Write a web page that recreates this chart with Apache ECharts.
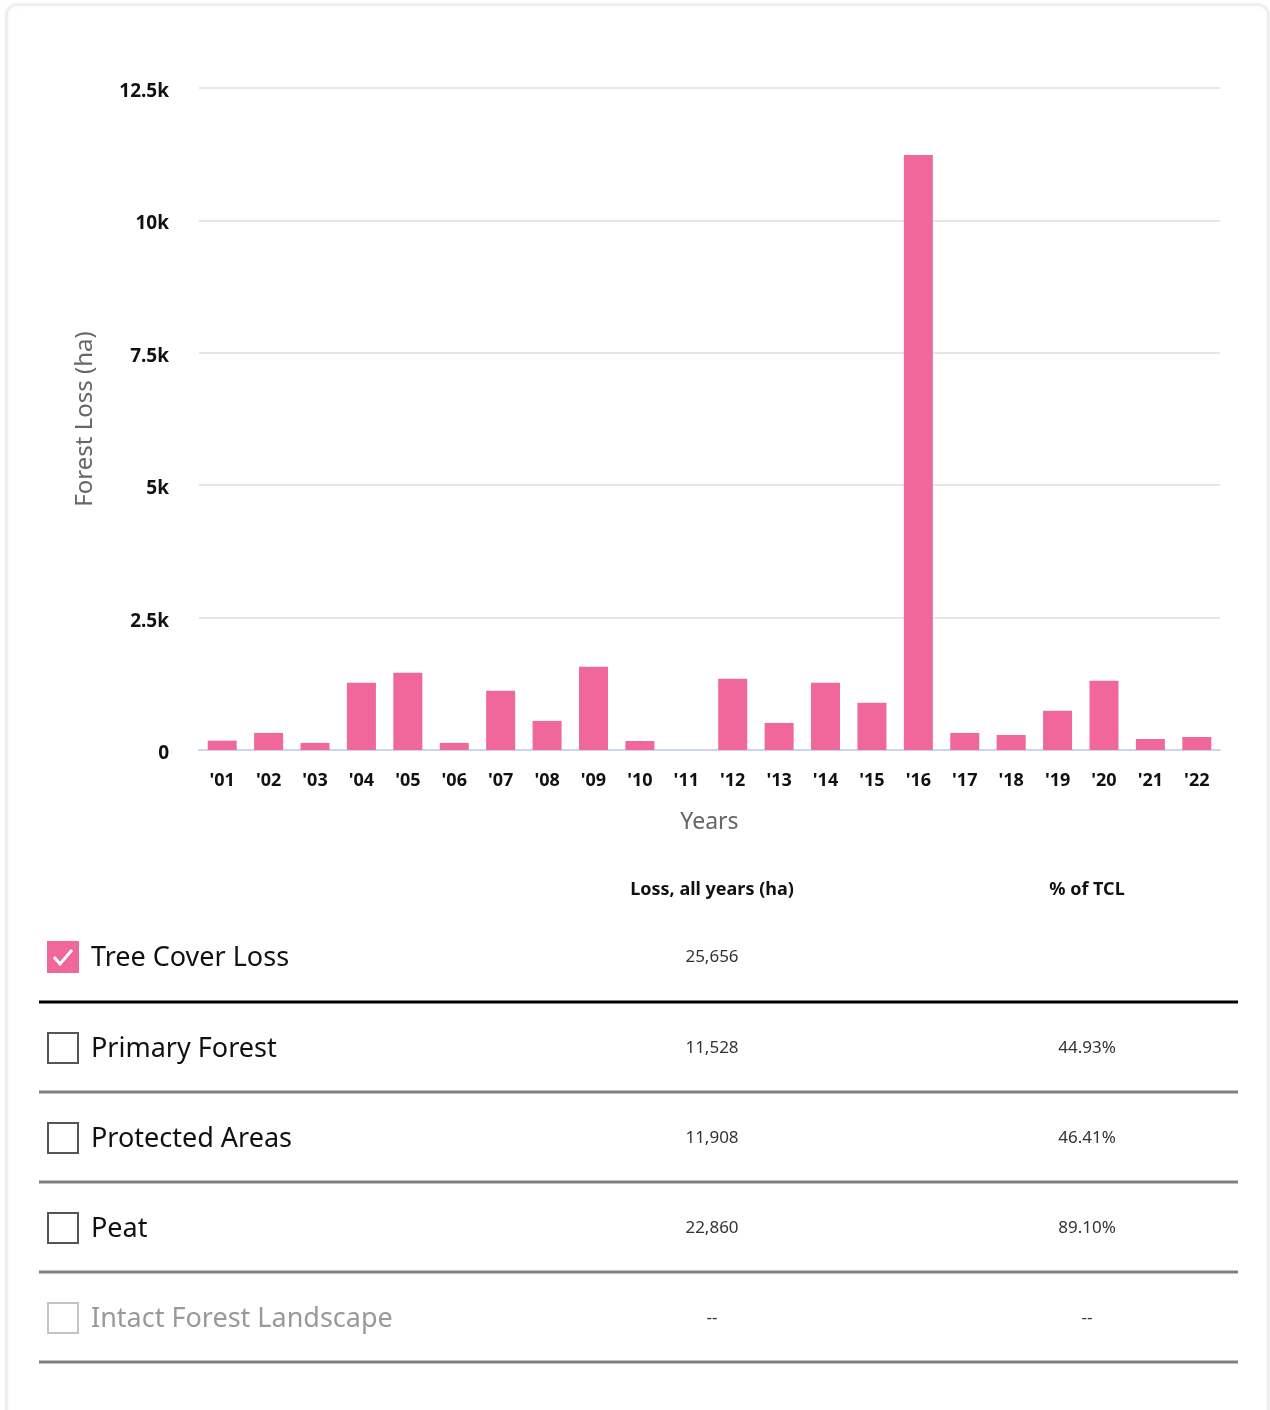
<!DOCTYPE html>
<html>
<head>
<meta charset="utf-8">
<script src="https://cdn.jsdelivr.net/npm/echarts@6/dist/echarts.min.js"></script>
<style>
html,body{margin:0;padding:0;background:#fff;}
#chart{width:1270px;height:1410px;}
</style>
</head>
<body>
<div id="chart"></div>
<script>
const years = ["'01","'02","'03","'04","'05","'06","'07","'08","'09","'10","'11","'12","'13","'14","'15","'16","'17","'18","'19","'20","'21","'22"];
const lossValues = [176, 322, 133, 1269, 1458, 133, 1117, 549, 1572, 170, 0, 1345, 511, 1269, 890, 11237, 322, 284, 739, 1307, 208, 246];
const yTicks = [0, 2500, 5000, 7500, 10000, 12500];

const tableHeaders = ["Loss, all years (ha)", "% of TCL"];
const rowLabels = ["Tree Cover Loss", "Primary Forest", "Protected Areas", "Peat", "Intact Forest Landscape"];
const rowLoss = ["25,656", "11,528", "11,908", "22,860", "--"];
const rowPct = ["", "44.93%", "46.41%", "89.10%", "--"];
const rowChecked = [true, false, false, false, false];
const rowDisabled = [false, false, false, false, true];

const FONT = "'Noto Sans', sans-serif";
const PINK = '#ef679b';

const chart = echarts.init(document.getElementById('chart'), null, {renderer: 'canvas'});

const graphics = [];
// card
graphics.push({
  type: 'rect', z: -10, silent: true,
  shape: {x: 7, y: 5, width: 1261, height: 1420, r: 10},
  style: {fill: '#fff', stroke: '#e8e8e8', lineWidth: 1, shadowBlur: 4, shadowColor: 'rgba(0,0,0,0.12)'}
});
// headers
const colX = [712, 1087];
tableHeaders.forEach((h, i) => {
  graphics.push({type: 'text', x: colX[i], y: 890,
    style: {text: h, font: "bold 18px " + FONT, fill: '#111', align: 'center', verticalAlign: 'middle'}});
});
const rowY = [957, 1048, 1138, 1228, 1318];
const lineY = [1002, 1092, 1182, 1272, 1362];
rowLabels.forEach((lab, i) => {
  const cy = rowY[i];
  if (rowChecked[i]) {
    graphics.push({type: 'rect', shape: {x: 47, y: cy - 16, width: 32, height: 32}, style: {fill: PINK}});
    graphics.push({type: 'polyline', shape: {points: [[54, cy], [60, cy + 7], [72, cy - 7]]},
      style: {stroke: '#fff', lineWidth: 3, fill: null}});
  } else {
    graphics.push({type: 'rect', shape: {x: 48, y: cy - 15, width: 30, height: 30},
      style: {fill: '#fff', stroke: rowDisabled[i] ? '#c4c4c4' : '#555', lineWidth: 2}});
  }
  graphics.push({type: 'text', x: 91, y: cy + 1,
    style: {text: lab, font: "27px " + FONT, fill: rowDisabled[i] ? '#999' : '#111', verticalAlign: 'middle'}});
  graphics.push({type: 'text', x: colX[0], y: cy,
    style: {text: rowLoss[i], font: "17px " + FONT, fill: '#333', align: 'center', verticalAlign: 'middle'}});
  if (rowPct[i]) graphics.push({type: 'text', x: colX[1], y: cy,
    style: {text: rowPct[i], font: "17px " + FONT, fill: '#333', align: 'center', verticalAlign: 'middle'}});
  graphics.push({type: 'rect', shape: {x: 39, y: lineY[i] - 1.5, width: 1199, height: 3},
    style: {fill: i === 0 ? '#000' : '#808080'}});
});

chart.setOption({
  animation: false,
  backgroundColor: '#fff',
  grid: {left: 199, right: 50, top: 88, bottom: 660, containLabel: false},
  xAxis: {
    type: 'category', data: years,
    name: 'Years', nameLocation: 'middle', nameGap: 61,
    nameTextStyle: {fontFamily: FONT, fontSize: 23, color: '#666'},
    axisLine: {show: true, lineStyle: {color: '#ccd6eb', width: 2}},
    axisTick: {show: false},
    axisLabel: {fontFamily: FONT, fontSize: 18, fontWeight: 'bold', color: '#111', margin: 22, interval: 0}
  },
  yAxis: {
    type: 'value', min: 0, max: 12500, interval: 2500,
    name: 'Forest Loss (ha)', nameLocation: 'middle', nameGap: 102, nameRotate: 90,
    nameTextStyle: {fontFamily: FONT, fontSize: 24, color: '#666'},
    axisLine: {show: false}, axisTick: {show: false},
    splitLine: {lineStyle: {color: '#e6e6e6', width: 2}},
    axisLabel: {fontFamily: FONT, fontSize: 19, fontWeight: 'bold', color: '#111', margin: 30,
      formatter: v => yTicks.includes(v) ? '{a|' + (v === 0 ? '0' : (v / 1000) + 'k') + '}' : '',
      rich: {a: {fontFamily: FONT, fontSize: 19, fontWeight: 'bold', color: '#111', padding: [7, 0, 0, 0]}}}
  },
  series: [{
    type: 'bar', data: lossValues, barWidth: 29,
    itemStyle: {color: PINK}
  }],
  graphic: graphics
});
</script>
</body>
</html>
